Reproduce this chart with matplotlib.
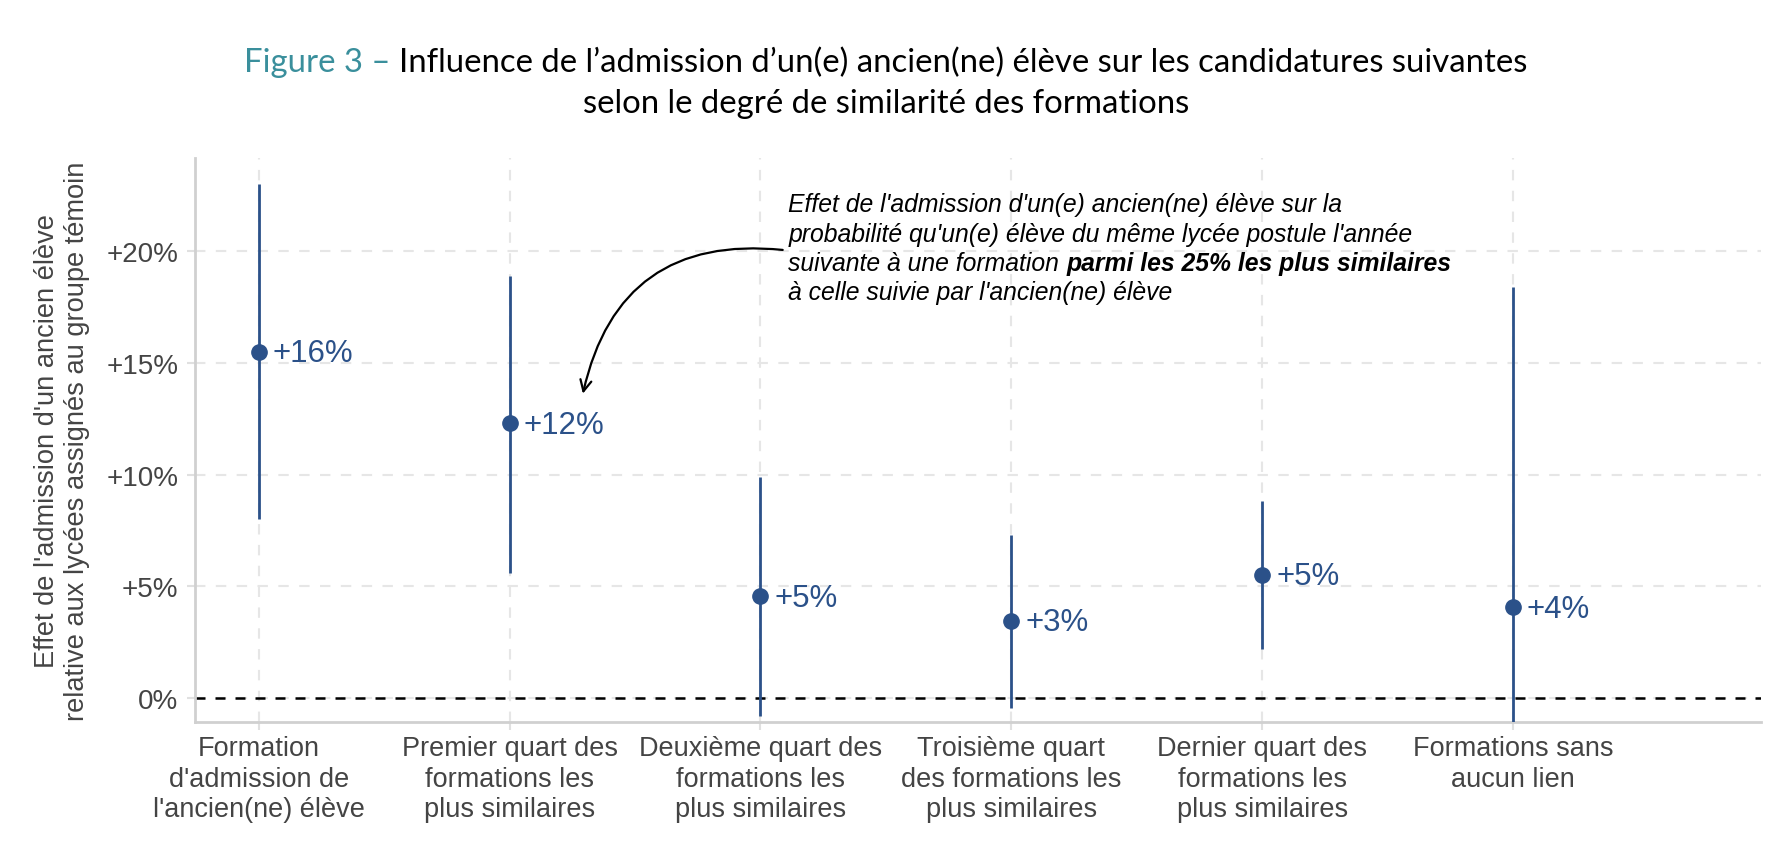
import numpy as np
import matplotlib
matplotlib.use("Agg")
import matplotlib.pyplot as plt
from matplotlib.patches import FancyArrowPatch

categories = ["Formation\nd'admission de\nl'ancien(ne) élève",
              "Premier quart des\nformations les\nplus similaires",
              "Deuxième quart des\nformations les\nplus similaires",
              "Troisième quart\ndes formations les\nplus similaires",
              "Dernier quart des\nformations les\nplus similaires",
              "Formations sans\naucun lien"]
estimates = [15.5, 12.3, 4.55, 3.45, 5.5, 4.05]
ci_low = [8.0, 5.6, -0.8, -0.45, 2.2, -1.2]
ci_high = [23.0, 18.9, 9.9, 7.3, 8.8, 18.4]
labels = ["+16%", "+12%", "+5%", "+3%", "+5%", "+4%"]
yticks = [0, 5, 10, 15, 20]
yticklabels = ["0%", "+5%", "+10%", "+15%", "+20%"]

blue = "#2b5189"
teal = "#3a8f9c"
grey_txt = "#444444"

plt.rcParams['font.family'] = ['Liberation Sans', 'DejaVu Sans']

fig = plt.figure(figsize=(17.72, 8.62), dpi=100)
ax = fig.add_axes([0.110, 0.161, 0.884, 0.655])

x = np.arange(1, len(categories) + 1)

ax.vlines(x, ci_low, ci_high, color=blue, lw=2.0, zorder=3)
ax.plot(x, estimates, "o", color=blue, ms=11, zorder=4)
for xi, yi, lab in zip(x, estimates, labels):
    ax.annotate(lab, (xi, yi), xytext=(10, -1), textcoords="offset points",
                va="center", ha="left", fontsize=22.5, color=blue)

ax.axhline(0, color="black", lw=1.8, ls=(0, (4, 4)), zorder=2)

ax.set_xlim(0.746, 6.99)
ax.set_ylim(-1.1, 24.2)
ax.set_xticks(x)
ax.set_xticklabels(categories, fontsize=19.5, color=grey_txt, linespacing=1.24)
ax.set_yticks(yticks)
ax.set_yticklabels(yticklabels, fontsize=20, color=grey_txt)
ax.grid(True, color="#e6e6e6", lw=1.5, ls=(0, (5, 5)))
ax.set_axisbelow(True)
for s in ["top", "right"]:
    ax.spines[s].set_visible(False)
for s in ["left", "bottom"]:
    ax.spines[s].set_color("#d0d0d0")
    ax.spines[s].set_linewidth(2)
ax.tick_params(axis="both", length=6, width=1.5, color="#e0e0e0", pad=6)
ax.tick_params(axis="x", pad=3)

ax.set_ylabel("Effet de l'admission d'un ancien élève\nrelative aux lycées assignés au groupe témoin",
              fontsize=19.6, color=grey_txt, linespacing=1.17, labelpad=12)

# annotation
ann_lines = ["Effet de l'admission d'un(e) ancien(ne) élève sur la",
             "probabilité qu'un(e) élève du même lycée postule l'année",
             "suivante à une formation ",
             "à celle suivie par l'ancien(ne) élève"]
ann_bold = "parmi les 25% les plus similaires"
ann_x = 3.112
ann_y0 = 22.1
ann_step = 1.31
fig.canvas.draw()
r = fig.canvas.get_renderer()
for i, line in enumerate(ann_lines):
    t = ax.text(ann_x, ann_y0 - i * ann_step, line, fontsize=17.8, style="italic",
                va="center", ha="left", color="black")
    if i == 2:
        bb = t.get_window_extent(renderer=r)
        xb = ax.transData.inverted().transform((bb.x1, bb.y0))[0]
        ax.text(xb, ann_y0 - i * ann_step, ann_bold, fontsize=17.8, style="italic",
                weight="bold", va="center", ha="left", color="black")

arrow = FancyArrowPatch((3.10, 20.05), (2.29, 13.5), connectionstyle="arc3,rad=0.45",
                        arrowstyle="->,head_length=8,head_width=4", color="black", lw=1.6,
                        zorder=5)
ax.add_patch(arrow)

# title in two colours
title_fs = 23.7
part1 = "Figure 3 – "
part2 = "Influence de l’admission d’un(e) ancien(ne) élève sur les candidatures suivantes"
ty1, ty2 = 0.927, 0.879
tfull = fig.text(0.5, ty1, part1 + part2, fontsize=title_fs, family="Lato",
                 ha="center", va="center")
bb = tfull.get_window_extent(renderer=r)
tfull.remove()
x0 = bb.x0 / fig.bbox.width
t1 = fig.text(x0, ty1, part1, fontsize=title_fs, family="Lato", color=teal,
              ha="left", va="center")
bb1 = t1.get_window_extent(renderer=r)
fig.text(bb1.x1 / fig.bbox.width, ty1, part2, fontsize=title_fs, family="Lato",
         color="black", ha="left", va="center")
fig.text(0.5, ty2, "selon le degré de similarité des formations", fontsize=title_fs,
         family="Lato", color="black", ha="center", va="center")

fig.savefig("out.png", dpi=100, facecolor="white")
